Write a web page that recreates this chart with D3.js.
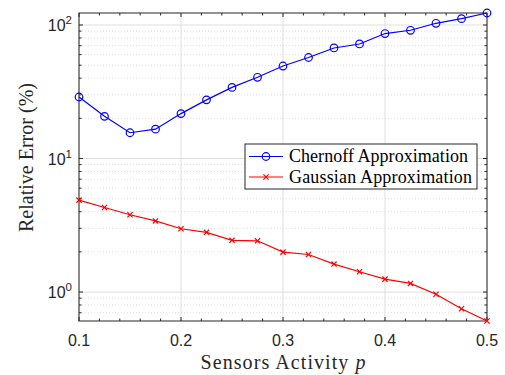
<!DOCTYPE html>
<html>
<head>
<meta charset="utf-8">
<script src="https://cdn.jsdelivr.net/npm/d3@7"></script>
<style>
  body { margin: 0; background: #fff; }
  svg { display: block; }
</style>
</head>
<body>
<svg id="chart"></svg>
<script>
// sensor activity values (x)
let activity = [0.1, 0.125, 0.15, 0.175, 0.2, 0.225, 0.25, 0.275, 0.3, 0.325,
                0.35, 0.375, 0.4, 0.425, 0.45, 0.475, 0.5]

// relative error in %
let chernoff = [28.9, 20.7, 15.6, 16.6, 21.7, 27.5, 34.1, 40.6, 49.3, 57.1,
                67.3, 72.1, 86.3, 91.3, 103, 111.6, 123]
let gaussian = [4.88, 4.30, 3.79, 3.41, 2.98, 2.80, 2.44, 2.42, 1.99, 1.91,
                1.62, 1.42, 1.25, 1.16, 0.963, 0.75, 0.607]

let xTicks = [0.1, 0.2, 0.3, 0.4, 0.5]
let yTicks = [1, 10, 100]
let seriesNames = ["Chernoff Approximation", "Gaussian Approximation"]

let width = 505, height = 375
let margin = {left: 79, right: 18, top: 13, bottom: 54}
let axisColor = "#262626"
let serif = "Liberation Serif, Times New Roman, serif"
let sans = "Liberation Sans, Arial, sans-serif"

let svg = d3.select("#chart")
    .attr("width", width)
    .attr("height", height)

let xScale = d3.scaleLinear()
    .domain([0.1, 0.5])
    .range([margin.left, width - margin.right])

let yScale = d3.scaleLog()
    .domain([d3.min(gaussian), d3.max(chernoff)])
    .range([height - margin.bottom, margin.top])

let x0 = xScale.range()[0], x1 = xScale.range()[1]
let y0 = yScale.range()[0], y1 = yScale.range()[1]

// minor y ticks: 2..9 in each decade, inside domain
let yMinor = []
for (let dec of [0.1, 1, 10, 100]) {
    for (let k = 2; k <= 9; k++) {
        let v = k * dec
        if (v >= yScale.domain()[0] && v <= yScale.domain()[1]) yMinor.push(v)
    }
}
let xMinor = d3.range(0.12, 0.5, 0.02).filter(v => Math.abs(v * 10 - Math.round(v * 10)) > 1e-6)

let grid = svg.append("g")

grid.selectAll(".yminor").data(yMinor).enter().append("line")
    .attr("x1", x0).attr("x2", x1)
    .attr("y1", d => yScale(d)).attr("y2", d => yScale(d))
    .attr("stroke", "#d4d4d4").attr("stroke-width", 0.8)
    .attr("stroke-dasharray", "1,2")

grid.selectAll(".xmajor").data(xTicks).enter().append("line")
    .attr("x1", d => xScale(d)).attr("x2", d => xScale(d))
    .attr("y1", y0).attr("y2", y1)
    .attr("stroke", "#dfdfdf").attr("stroke-width", 1)

grid.selectAll(".ymajor").data(yTicks).enter().append("line")
    .attr("x1", x0).attr("x2", x1)
    .attr("y1", d => yScale(d)).attr("y2", d => yScale(d))
    .attr("stroke", "#dfdfdf").attr("stroke-width", 1)

// ticks inside the box, on all four sides
let ticks = svg.append("g").attr("stroke", axisColor).attr("stroke-width", 1)
let tickLen = 4, minorLen = 2.5

for (let v of xTicks) {
    ticks.append("line").attr("x1", xScale(v)).attr("x2", xScale(v)).attr("y1", y0).attr("y2", y0 - tickLen)
    ticks.append("line").attr("x1", xScale(v)).attr("x2", xScale(v)).attr("y1", y1).attr("y2", y1 + tickLen)
}
for (let v of xMinor) {
    ticks.append("line").attr("x1", xScale(v)).attr("x2", xScale(v)).attr("y1", y0).attr("y2", y0 - minorLen)
    ticks.append("line").attr("x1", xScale(v)).attr("x2", xScale(v)).attr("y1", y1).attr("y2", y1 + minorLen)
}
for (let v of yTicks) {
    ticks.append("line").attr("x1", x0).attr("x2", x0 + tickLen).attr("y1", yScale(v)).attr("y2", yScale(v))
    ticks.append("line").attr("x1", x1).attr("x2", x1 - tickLen).attr("y1", yScale(v)).attr("y2", yScale(v))
}
for (let v of yMinor) {
    ticks.append("line").attr("x1", x0).attr("x2", x0 + minorLen).attr("y1", yScale(v)).attr("y2", yScale(v))
    ticks.append("line").attr("x1", x1).attr("x2", x1 - minorLen).attr("y1", yScale(v)).attr("y2", yScale(v))
}

// box
svg.append("rect")
    .attr("x", x0).attr("y", y1)
    .attr("width", x1 - x0).attr("height", y0 - y1)
    .attr("fill", "none").attr("stroke", axisColor).attr("stroke-width", 1)

// tick labels
svg.selectAll(".xlabel").data(xTicks).enter().append("text")
    .attr("x", d => xScale(d))
    .attr("y", y0 + 25)
    .attr("text-anchor", "middle")
    .attr("font-family", sans)
    .attr("font-size", 16)
    .attr("fill", axisColor)
    .text(d => d.toFixed(1))

let yl = svg.selectAll(".ylabel").data(yTicks).enter().append("text")
    .attr("x", x0 - 7)
    .attr("y", d => yScale(d) + 6)
    .attr("text-anchor", "end")
    .attr("font-family", sans)
    .attr("font-size", 16)
    .attr("fill", axisColor)
yl.append("tspan").text("10")
yl.append("tspan").attr("dy", -7).attr("font-size", 11.5).text(d => Math.round(Math.log10(d)))

// axis titles
let xt = svg.append("text")
    .attr("x", 283)
    .attr("y", 369)
    .attr("text-anchor", "middle")
    .attr("font-family", serif)
    .attr("font-size", 20)
    .attr("fill", axisColor)
    .attr("textLength", 165)
xt.append("tspan").text("Sensors Activity ")
xt.append("tspan").attr("font-style", "italic").text("p")

svg.append("text")
    .attr("transform", "translate(33,157.5) rotate(-90)")
    .attr("text-anchor", "middle")
    .attr("font-family", serif)
    .attr("font-size", 20)
    .attr("fill", axisColor)
    .attr("textLength", 149)
    .text("Relative Error (%)")

// series
let line = d3.line()
    .x((d, i) => xScale(activity[i]))
    .y(d => yScale(d))

let plot = svg.append("g")

plot.append("path").datum(chernoff)
    .attr("d", line).attr("fill", "none")
    .attr("stroke", "#0000ff").attr("stroke-width", 1.2)

plot.selectAll(".cmark").data(chernoff).enter().append("circle")
    .attr("cx", (d, i) => xScale(activity[i]))
    .attr("cy", d => yScale(d))
    .attr("r", 3.8)
    .attr("fill", "none").attr("stroke", "#0000ff").attr("stroke-width", 1.2)

plot.append("path").datum(gaussian)
    .attr("d", line).attr("fill", "none")
    .attr("stroke", "#ff0000").attr("stroke-width", 1.2)

let cross = 2.6
plot.selectAll(".gmark").data(gaussian).enter().append("path")
    .attr("d", (d, i) => {
        let cx = xScale(activity[i]), cy = yScale(d)
        return `M${cx - cross},${cy - cross}L${cx + cross},${cy + cross}M${cx - cross},${cy + cross}L${cx + cross},${cy - cross}`
    })
    .attr("stroke", "#ff0000").attr("stroke-width", 1.2)

// legend
let legend = svg.append("g")
let lx = 245, ly = 144, lw = 232, lh = 45
legend.append("rect")
    .attr("x", lx).attr("y", ly).attr("width", lw).attr("height", lh)
    .attr("fill", "#fff").attr("stroke", axisColor).attr("stroke-width", 1)

let colors = ["#0000ff", "#ff0000"]
let textWidths = [179, 183]
seriesNames.forEach((name, i) => {
    let cy = ly + 12.5 + i * 20.5
    legend.append("line")
        .attr("x1", lx + 4).attr("x2", lx + 38)
        .attr("y1", cy).attr("y2", cy)
        .attr("stroke", colors[i]).attr("stroke-width", 1.2)
    let mx = lx + 21
    if (i == 0) {
        legend.append("circle").attr("cx", mx).attr("cy", cy).attr("r", 3.8)
            .attr("fill", "none").attr("stroke", colors[i]).attr("stroke-width", 1.2)
    } else {
        legend.append("path")
            .attr("d", `M${mx - cross},${cy - cross}L${mx + cross},${cy + cross}M${mx - cross},${cy + cross}L${mx + cross},${cy - cross}`)
            .attr("stroke", colors[i]).attr("stroke-width", 1.2)
    }
    legend.append("text")
        .attr("x", lx + 44).attr("y", cy + 5.5)
        .attr("font-family", serif)
        .attr("font-size", 18)
        .attr("fill", "#000")
        .attr("textLength", textWidths[i])
        .text(name)
})
</script>
</body>
</html>
